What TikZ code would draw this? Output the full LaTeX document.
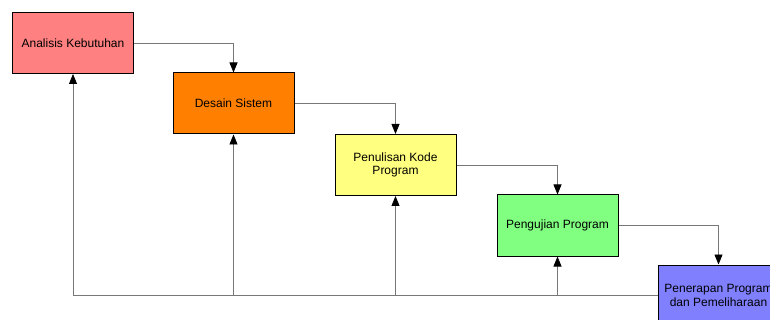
\documentclass[tikz,border=0pt]{standalone}
\usepackage{fontspec}
\setmainfont{Liberation Sans}
\usetikzlibrary{arrows.meta}
\definecolor{cpink}{HTML}{FF8080}
\definecolor{corange}{HTML}{FF8000}
\definecolor{cyellow}{HTML}{FFFF80}
\definecolor{cgreen}{HTML}{80FF80}
\definecolor{cblue}{HTML}{8080FF}
\definecolor{cline}{HTML}{777777}
\begin{document}
\begin{tikzpicture}[x=1pt,y=-1pt,
  stage/.style={draw=black, line width=1pt, minimum width=121pt, minimum height=61pt,
    inner sep=0pt, align=center, font=\fontsize{12pt}{13.5pt}\selectfont},
  flow/.style={draw=cline, line width=0.8pt, -{Triangle[width=8pt,length=10pt,fill=black,color=black]}},
  plain/.style={draw=cline, line width=0.8pt}]
\useasboundingbox (0,0) rectangle (770,320);
\clip (0,0) rectangle (770,320);
\node[stage, fill=cpink] (b1) at (73,43) {Analisis Kebutuhan};
\node[stage, fill=corange] (b2) at (233.5,103.5) {Desain Sistem};
\node[stage, fill=cyellow] (b3) at (395.5,165) {Penulisan Kode\\Program};
\node[stage, fill=cgreen] (b4) at (557.5,225.5) {Pengujian Program};
\node[stage, fill=cblue] (b5) at (718.5,295.5) {Penerapan Program\\dan Pemeliharaan};
\draw[flow] (b1.east) -| (b2.north);
\draw[flow] (b2.east) -| (b3.north);
\draw[flow] (b3.east) -| (b4.north);
\draw[flow] (b4.east) -| (b5.north);
\coordinate (j2) at (b2.south |- b5.west);
\coordinate (j3) at (b3.south |- b5.west);
\coordinate (j4) at (b4.south |- b5.west);
\draw[flow] (b5.west) -| (b1.south);
\draw[flow] (j2) -- (b2.south);
\draw[flow] (j3) -- (b3.south);
\draw[flow] (j4) -- (b4.south);
\end{tikzpicture}
\end{document}
